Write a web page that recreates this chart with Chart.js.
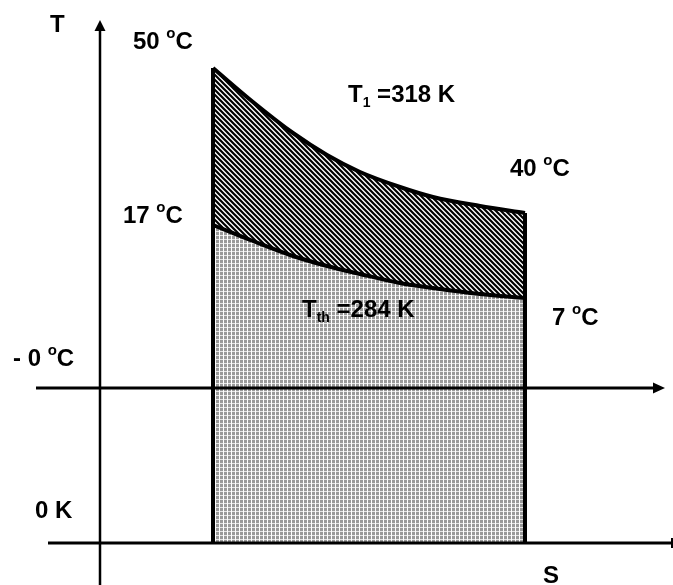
<!DOCTYPE html>
<html>
<head>
<meta charset="utf-8">
<script src="https://cdn.jsdelivr.net/npm/chart.js@4.4.1/dist/chart.umd.min.js"></script>
<style>
  body { margin: 0; background: #fff; }
  #wrap { width: 673px; height: 585px; }
</style>
</head>
<body>
<div id="wrap"><canvas id="myChart"></canvas></div>
<script>
// entropy positions (arbitrary units) and the two temperature curves (schematic units)
let sVals = [11.3, 15.3, 19.3, 22.7, 26, 30, 33.3, 38, 42.5];
let tUpper = [47.5, 44.1, 41.0, 38.8, 37.1, 35.6, 34.6, 33.7, 33.0];
let tLower = [31.8, 30.2, 28.7, 27.7, 26.9, 26.0, 25.5, 24.9, 24.5];

// reference levels on the T axis
let zeroKelvin = 0;
let zeroCelsius = 15.5;

// axis extents
let tAxisRange = [-4.2, 52.3];
let celsiusLineRange = [-6.4, 56.5];
let kelvinLineRange = [-5.2, 57.2];

// labels: runs of text, n = normal, sup = raised small, sub = lowered small
let labels = [
  { s: -5.0, t: 51.1, runs: [['T', 'n']] },
  { s: 3.3, t: 49.4, runs: [['50 ', 'n'], ['o', 'sup'], ['C', 'n']] },
  { s: 2.3, t: 32.0, runs: [['17 ', 'n'], ['o', 'sup'], ['C', 'n']] },
  { s: 24.8, t: 44.1, runs: [['T', 'n'], ['1', 'sub'], [' =318 K', 'n']] },
  { s: 41.0, t: 36.7, runs: [['40 ', 'n'], ['o', 'sup'], ['C', 'n']] },
  { s: 45.2, t: 21.8, runs: [['7 ', 'n'], ['o', 'sup'], ['C', 'n']] },
  { s: 20.2, t: 22.6, runs: [['T', 'n'], ['th', 'sub'], [' =284 K', 'n']] },
  { s: -8.7, t: 17.7, runs: [['- 0 ', 'n'], ['o', 'sup'], ['C', 'n']] },
  { s: -6.5, t: 2.5, runs: [['0 K', 'n']] },
  { s: 44.3, t: -4.0, runs: [['S', 'n']] }
];

function toPoints(xs, ys) {
  return xs.map((x, i) => ({ x: x, y: ys[i] }));
}

// hatch pattern "\\\\"
let hatchTile = document.createElement('canvas');
hatchTile.width = 5; hatchTile.height = 5;
let hc = hatchTile.getContext('2d');
hc.fillStyle = '#fff';
hc.fillRect(0, 0, 5, 5);
hc.strokeStyle = '#000';
hc.lineWidth = 2.2;
hc.beginPath();
hc.moveTo(-1, -1); hc.lineTo(6, 6);
hc.moveTo(4, -1); hc.lineTo(6, 1);
hc.moveTo(-1, 4); hc.lineTo(1, 6);
hc.stroke();

// dotted pattern
let dotTile = document.createElement('canvas');
dotTile.width = 4; dotTile.height = 4;
let dc = dotTile.getContext('2d');
dc.fillStyle = '#9a9a9a';
dc.fillRect(0, 0, 4, 4);
dc.fillStyle = '#ffffff';
dc.fillRect(3, 0, 1, 4);
dc.fillStyle = '#e6e6e6';
dc.fillRect(0, 3, 3, 1);

const ctx = document.getElementById('myChart');
const pat = ctx.getContext('2d');
const hatch = pat.createPattern(hatchTile, 'repeat');
const dots = pat.createPattern(dotTile, 'repeat');

const framePlugin = {
  id: 'frame',
  afterDatasetsDraw(chart) {
    const c = chart.ctx;
    const xs = chart.scales.x, ys = chart.scales.y;
    const X = v => xs.getPixelForValue(v);
    const Y = v => ys.getPixelForValue(v);
    c.save();
    c.strokeStyle = '#000';
    c.fillStyle = '#000';

    // vertical T axis with arrow
    c.lineWidth = 2.5;
    c.beginPath();
    c.moveTo(X(0), Y(tAxisRange[0]));
    c.lineTo(X(0), Y(tAxisRange[1]) + 8);
    c.stroke();
    c.beginPath();
    c.moveTo(X(0), Y(tAxisRange[1]));
    c.lineTo(X(0) - 5.5, Y(tAxisRange[1]) + 11);
    c.lineTo(X(0) + 5.5, Y(tAxisRange[1]) + 11);
    c.closePath();
    c.fill();

    // 0 C line with arrow
    c.lineWidth = 3;
    c.beginPath();
    c.moveTo(X(celsiusLineRange[0]), Y(zeroCelsius));
    c.lineTo(X(celsiusLineRange[1]) - 8, Y(zeroCelsius));
    c.stroke();
    c.beginPath();
    c.moveTo(X(celsiusLineRange[1]), Y(zeroCelsius));
    c.lineTo(X(celsiusLineRange[1]) - 12, Y(zeroCelsius) - 5.5);
    c.lineTo(X(celsiusLineRange[1]) - 12, Y(zeroCelsius) + 5.5);
    c.closePath();
    c.fill();

    // 0 K line with end tick
    c.beginPath();
    c.moveTo(X(kelvinLineRange[0]), Y(zeroKelvin));
    c.lineTo(X(kelvinLineRange[1]), Y(zeroKelvin));
    c.stroke();
    c.lineWidth = 2;
    c.beginPath();
    c.moveTo(X(kelvinLineRange[1]), Y(zeroKelvin) - 5);
    c.lineTo(X(kelvinLineRange[1]), Y(zeroKelvin) + 5);
    c.stroke();
    c.restore();
  },
  afterDraw(chart) {
    const c = chart.ctx;
    const xs = chart.scales.x, ys = chart.scales.y;
    const fonts = {
      n: 'bold 24px "Liberation Sans", Arial, sans-serif',
      sup: 'bold 15px "Liberation Sans", Arial, sans-serif',
      sub: 'bold 14px "Liberation Sans", Arial, sans-serif'
    };
    const shift = { n: 0, sup: -11, sub: 5 };
    c.save();
    c.fillStyle = '#000';
    c.textBaseline = 'alphabetic';
    labels.forEach(l => {
      let x = xs.getPixelForValue(l.s);
      const y = ys.getPixelForValue(l.t);
      l.runs.forEach(r => {
        c.font = fonts[r[1]];
        c.fillText(r[0], x, y + shift[r[1]]);
        x += c.measureText(r[0]).width;
      });
    });
    c.restore();
  }
};

new Chart(ctx, {
  type: 'line',
  data: {
    datasets: [
      {
        label: 'upper',
        data: toPoints(sVals, tUpper),
        borderColor: '#000',
        borderWidth: 4,
        backgroundColor: hatch,
        fill: 1,
        pointRadius: 0,
        cubicInterpolationMode: 'monotone'
      },
      {
        label: 'lower',
        data: toPoints(sVals, tLower),
        borderColor: '#000',
        borderWidth: 4,
        backgroundColor: dots,
        fill: 'origin',
        pointRadius: 0,
        cubicInterpolationMode: 'monotone'
      },
      {
        label: 'left edge',
        data: toPoints([sVals[0], sVals[0]], [zeroKelvin, tUpper[0]]),
        borderColor: '#000',
        borderWidth: 4,
        pointRadius: 0,
        fill: false
      },
      {
        label: 'right edge',
        data: toPoints([sVals[sVals.length - 1], sVals[sVals.length - 1]], [zeroKelvin, tUpper[tUpper.length - 1]]),
        borderColor: '#000',
        borderWidth: 4,
        pointRadius: 0,
        fill: false
      }
    ]
  },
  options: {
    responsive: true,
    maintainAspectRatio: false,
    animation: false,
    layout: { padding: 0 },
    scales: {
      x: { type: 'linear', min: -10, max: 57.3, display: false },
      y: { type: 'linear', min: -4.2, max: 54.3, display: false }
    },
    plugins: {
      legend: { display: false },
      tooltip: { enabled: false },
      filler: { drawTime: 'beforeDatasetsDraw' }
    }
  },
  plugins: [framePlugin]
});
</script>
</body>
</html>
